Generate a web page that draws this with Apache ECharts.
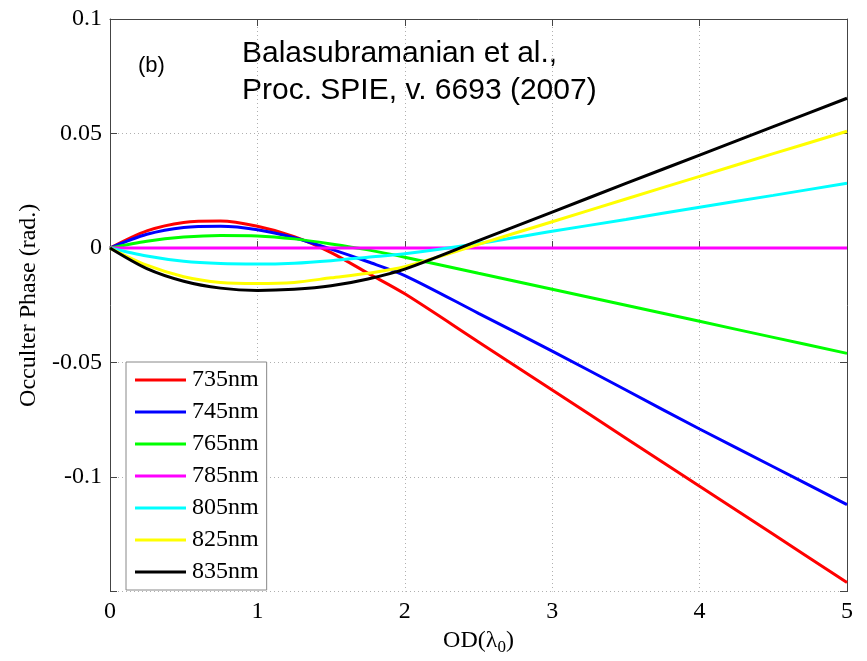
<!DOCTYPE html>
<html>
<head>
<meta charset="utf-8">
<script src="https://cdn.jsdelivr.net/npm/echarts@6/dist/echarts.min.js"></script>
<style>html,body{margin:0;padding:0;background:#fff;}#c{width:867px;height:661px;}</style>
</head>
<body>
<div id="c"></div>
<script>
const xs = [0, 0.25, 0.5, 0.75, 1, 1.25, 1.5, 1.75, 2, 2.5, 3, 3.5, 4, 4.5, 5];
const seriesNames = ['735nm', '745nm', '765nm', '785nm', '805nm', '825nm', '835nm'];
const colors = ['#ff0000', '#0000ff', '#00ff00', '#ff00ff', '#00ffff', '#ffff00', '#000000'];
const y735 = [0, 0.0075, 0.0112, 0.0118, 0.0095, 0.005, -0.002, -0.011, -0.020, -0.041, -0.062, -0.083, -0.104, -0.125, -0.146];
const y745 = [0, 0.006, 0.009, 0.0095, 0.008, 0.0045, -0.0005, -0.006, -0.012, -0.0285, -0.045, -0.062, -0.079, -0.0955, -0.112];
const y765 = [0, 0.003, 0.0048, 0.0055, 0.0053, 0.004, 0.0018, -0.0008, -0.004, -0.011, -0.018, -0.025, -0.032, -0.039, -0.046];
const y785 = [0, 0, 0, 0, 0, 0, 0, 0, 0, 0, 0, 0, 0, 0, 0];
const y805 = [0, -0.0035, -0.0058, -0.0068, -0.007, -0.0066, -0.0055, -0.004, -0.0025, 0.002, 0.0073, 0.0125, 0.0178, 0.023, 0.0283];
const y825 = [0, -0.0075, -0.0125, -0.015, -0.0155, -0.015, -0.013, -0.011, -0.0082, 0.0016, 0.0115, 0.0214, 0.0313, 0.0412, 0.051];
const y835 = [0, -0.009, -0.0145, -0.0175, -0.0185, -0.018, -0.0165, -0.0135, -0.0092, 0.0032, 0.0157, 0.0282, 0.0406, 0.053, 0.0654];
const xTicks = [0, 1, 2, 3, 4, 5];
const yTickLabels = ['-0.1', '-0.05', '0', '0.05', '0.1'];
const annotLine1 = 'Balasubramanian et al.,';
const annotLine2 = 'Proc. SPIE, v. 6693 (2007)';
const panelLabel = '(b)';

const allY = [y735, y745, y765, y785, y805, y825, y835];
const serif = '"Liberation Serif", "Times New Roman", serif';
const axisColor = '#444';

const chart = echarts.init(document.getElementById('c'));
const series = seriesNames.map((n, i) => ({
  name: n,
  type: 'line',
  data: xs.map((x, j) => [x, allY[i][j]]),
  symbol: 'none',
  smooth: 0.3,
  lineStyle: { color: colors[i], width: 3 },
  itemStyle: { color: colors[i] },
  z: 2 + i
}));

function fmtY(v) {
  const s = String(parseFloat(v.toFixed(4)));
  return yTickLabels.indexOf(s) >= 0 ? s : '';
}

chart.setOption({
  backgroundColor: '#fff',
  animation: false,
  grid: { left: 110, right: 20, top: 19, bottom: 62, containLabel: false },
  xAxis: [{
    type: 'value', min: 0, max: 5, interval: 1,
    name: 'OD(λ{s|0})', nameLocation: 'middle', nameGap: 29,
    nameTextStyle: {
      fontFamily: serif, fontSize: 24, color: '#000',
      rich: { s: { fontFamily: serif, fontSize: 17, color: '#000', padding: [14, 0, 0, 0] } }
    },
    axisLine: { show: true, lineStyle: { color: axisColor, width: 1 } },
    axisTick: { show: true, inside: true, length: 7, lineStyle: { color: axisColor } },
    axisLabel: { fontFamily: serif, fontSize: 24, color: '#000', margin: 8,
      formatter: v => (xTicks.indexOf(v) >= 0 ? String(v) : '') },
    splitLine: { show: true, lineStyle: { color: '#b0b0b0', type: [1, 3], width: 1 } }
  }, {
    type: 'value', min: 0, max: 5, interval: 1, position: 'top',
    axisLine: { show: true, onZero: false, lineStyle: { color: axisColor, width: 1 } },
    axisTick: { show: true, inside: true, length: 7, lineStyle: { color: axisColor } },
    axisLabel: { show: false }, splitLine: { show: false }
  }],
  yAxis: [{
    type: 'value', min: -0.15, max: 0.1, interval: 0.05,
    name: 'Occulter Phase (rad.)', nameLocation: 'middle', nameGap: 66,
    nameTextStyle: { fontFamily: serif, fontSize: 24, color: '#000' },
    axisLine: { show: true, onZero: false, lineStyle: { color: axisColor, width: 1 } },
    axisTick: { show: true, inside: true, length: 7, lineStyle: { color: axisColor } },
    axisLabel: { fontFamily: serif, fontSize: 24, color: '#000', margin: 8, formatter: fmtY },
    splitLine: { show: true, lineStyle: { color: '#b0b0b0', type: [1, 3], width: 1 } }
  }, {
    type: 'value', min: -0.15, max: 0.1, interval: 0.05, position: 'right',
    axisLine: { show: true, onZero: false, lineStyle: { color: axisColor, width: 1 } },
    axisTick: { show: true, inside: true, length: 7, lineStyle: { color: axisColor } },
    axisLabel: { show: false }, splitLine: { show: false }
  }],
  legend: {
    data: seriesNames.map(n => ({ name: n, icon: 'rect' })),
    orient: 'vertical',
    left: 126, top: 362,
    padding: [6, 8, 6, 9],
    itemGap: 8,
    itemWidth: 51, itemHeight: 3,
    backgroundColor: '#fff',
    borderColor: '#888', borderWidth: 1,
    textStyle: { fontFamily: serif, fontSize: 24, color: '#000', lineHeight: 24, padding: [0, 0, 0, 1] },
    selectedMode: false
  },
  graphic: [
    { type: 'text', left: 138, top: 55, style: { text: panelLabel, font: '22px "Liberation Sans", Arial, sans-serif', fill: '#000' } },
    { type: 'text', x: 242, y: 54, style: { text: annotLine1, font: '30px "Liberation Sans", Arial, sans-serif', fill: '#000', textVerticalAlign: 'middle' } },
    { type: 'text', x: 242, y: 91, style: { text: annotLine2, font: '30px "Liberation Sans", Arial, sans-serif', fill: '#000', textVerticalAlign: 'middle' } }
  ],
  series: series
});
</script>
</body>
</html>
